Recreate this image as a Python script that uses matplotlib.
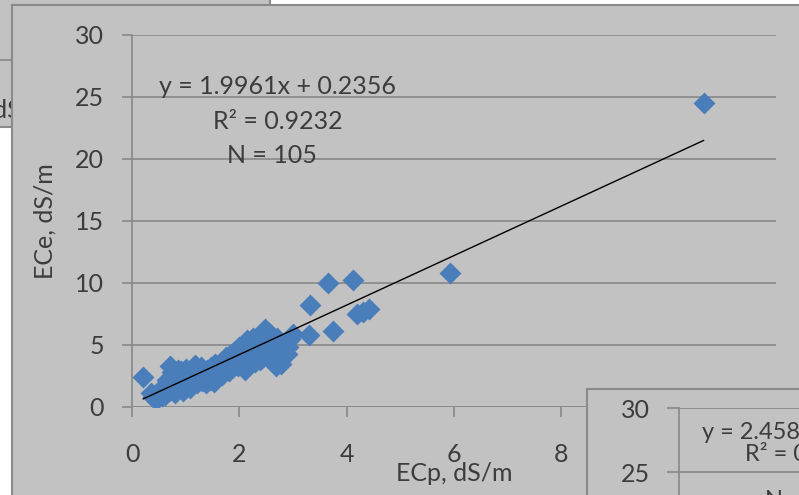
import matplotlib.pyplot as plt
from matplotlib.patches import Rectangle
from matplotlib.lines import Line2D

# ECp vs ECe readings
ecp = [0.21, 3.31, 3.66, 4.11, 3.74, 3.29, 4.20, 4.30, 4.41, 5.93, 10.65, 2.90,
       0.35, 0.40, 0.45, 0.50, 0.55, 0.60, 0.62, 0.65, 0.70, 0.72,
       0.75, 0.78, 0.80, 0.82, 0.85, 0.88, 0.90, 0.92, 0.95, 0.98,
       1.00, 1.02, 1.05, 1.08, 1.10, 1.12, 1.15, 1.18, 1.20, 1.22,
       1.25, 1.28, 1.30, 1.35, 1.38, 1.40, 1.42, 1.45, 1.48, 1.50,
       1.52, 1.55, 1.58, 1.60, 1.62, 1.65, 1.68, 1.70, 1.72, 1.75,
       1.78, 1.80, 1.82, 1.85, 1.88, 1.90, 1.92, 1.95, 1.98, 2.00,
       2.02, 2.05, 2.08, 2.10, 2.12, 2.15, 2.18, 2.20, 2.22, 2.25,
       2.28, 2.30, 2.32, 2.35, 2.38, 2.40, 2.42, 2.45, 2.48, 2.50,
       2.52, 2.55, 2.58, 2.60, 2.65, 2.68, 2.70, 2.72, 2.78, 2.82,
       2.88, 2.95, 3.00]
ece = [2.4, 8.2, 10.0, 10.25, 6.1, 5.8, 7.5, 7.7, 7.9, 10.8, 24.5, 4.8,
       1.1, 0.8, 0.6, 1.3, 0.9, 1.5, 1.0, 2.2, 3.3, 1.4,
       2.8, 1.8, 1.1, 2.5, 3.0, 1.6, 2.0, 2.9, 1.3, 2.4,
       3.1, 1.8, 2.6, 1.5, 2.2, 3.0, 2.0, 3.4, 2.7, 1.9,
       2.4, 3.2, 2.1, 2.8, 1.9, 3.0, 2.4, 2.2, 3.2, 2.6,
       2.0, 3.5, 2.9, 2.4, 3.3, 3.0, 2.6, 3.6, 3.1, 4.0,
       3.4, 2.9, 4.2, 3.7, 3.2, 4.4, 3.6, 4.0, 3.3, 4.8,
       3.9, 4.3, 5.1, 3.0, 4.6, 5.4, 3.8, 5.0, 4.2, 5.6,
       4.5, 3.6, 4.9, 5.2, 3.8, 4.4, 5.8, 4.0, 6.3, 5.5,
       4.7, 6.0, 3.9, 5.2, 4.5, 3.3, 5.6, 4.1, 3.5, 5.0,
       4.3, 5.5, 5.9]

slope = 1.9961
intercept = 0.2356
r2 = 0.9232

xticks = [0, 2, 4, 6, 8, 10, 12]
yticks = [0, 5, 10, 15, 20, 25, 30]

W, H = 799, 495
bg = '#c2c2c2'
grid = '#8c8c8c'
frame = '#8a8a8a'
txt = '#3c3c3c'
fs = 18

plt.rcParams['font.family'] = ['Lato', 'DejaVu Sans']


def px(x0, y0, x1, y1):
    # pixel box (top-left origin) -> figure fraction
    return [x0 / W, 1 - y1 / H, (x1 - x0) / W, (y1 - y0) / H]


def chart_area(box, z, edges):
    # gray fill plus only the border lines that show inside the canvas
    x0, y0, x1, y1 = box
    l, b, w, h = px(*box)
    fig.patches.append(Rectangle((l, b), w, h, transform=fig.transFigure,
                                 facecolor=bg, edgecolor='none', zorder=z))
    segs = {'left': ([x0, x0], [y0, y1]), 'right': ([x1, x1], [y0, y1]),
            'top': ([x0, x1], [y0, y0]), 'bottom': ([x0, x1], [y1, y1])}
    for e in edges:
        xs, ys = segs[e]
        fig.lines.append(Line2D([v / W for v in xs], [1 - v / H for v in ys],
                                transform=fig.transFigure, color=frame,
                                linewidth=1.5, zorder=z + 0.1))


def style_plot(a):
    a.set_facecolor('none')
    a.grid(axis='y', color=grid, linewidth=1.3)
    a.set_axisbelow(True)
    for s in ['top', 'right', 'bottom']:
        a.spines[s].set_visible(False)
    a.spines['left'].set_color(grid)
    a.spines['left'].set_linewidth(1.3)
    a.tick_params(colors=grid, labelcolor=txt, labelsize=fs, width=1.3, length=7)


fig = plt.figure(figsize=(W / 100, H / 100), dpi=100, facecolor='white')

# chart partly hidden behind, top left
chart_area((-5, -5, 270, 127), 0, ['right', 'bottom'])
back = fig.add_axes(px(-5, -5, 270, 127), zorder=0.5)
back.axis('off')
back.set_xlim(-5, 270)
back.set_ylim(127, -5)
back.plot([-5, 270], [60, 60], color=grid, linewidth=1.3)
back.text(-64, 111, 'ECp, dS/m', fontsize=fs, color=txt, ha='left', va='center')

# main chart
chart_area((12, 5, 830, 530), 1, ['left', 'top'])
ax = fig.add_axes(px(132, 35, 776, 407), zorder=2)
style_plot(ax)
ax.scatter(ecp, ece, marker='D', s=125, color='#4a7ebb', linewidths=0, zorder=3)
x0, x1 = min(ecp), max(ecp)
ax.plot([x0, x1], [slope * x0 + intercept, slope * x1 + intercept],
        color='black', linewidth=1.0, zorder=4)
ax.set_xlim(0, 12)
ax.set_ylim(0, 30)
ax.set_xticks(xticks)
ax.set_yticks(yticks)
ax.tick_params(axis='x', pad=19)
ax.tick_params(axis='y', pad=13)
ax.axhline(0, color=grid, linewidth=1.3, zorder=1)
ax.set_xlabel('ECp, dS/m', fontsize=fs, color=txt, labelpad=-3)
ax.set_ylabel('ECe, dS/m', fontsize=fs, color=txt, labelpad=13)
ax.text(2.72, 25.85, 'y = %.4fx + %.4f' % (slope, intercept), fontsize=fs,
        color=txt, ha='center', va='center')
ax.text(2.72, 23.0, 'R² = %.4f' % r2, fontsize=fs, color=txt,
        ha='center', va='center')
ax.text(2.60, 20.3, 'N = %d' % len(ecp), fontsize=fs, color=txt,
        ha='center', va='center')

# next chart, bottom right
chart_area((587, 389, 830, 530), 5, ['left', 'top'])
ax2 = fig.add_axes(px(679, 408, 1323, 792), zorder=6)
style_plot(ax2)
ax2.set_xlim(0, 12)
ax2.set_ylim(0, 30)
ax2.set_xticks([])
ax2.set_yticks(yticks)
ax2.tick_params(axis='y', pad=12, length=9)
ax2.text(0.43, 28.1, 'y = 2.4582x', fontsize=17, color=txt, ha='left', va='center')
ax2.text(1.23, 26.4, 'R² = 0.9', fontsize=17, color=txt, ha='left', va='center')
ax2.text(1.6, 22.8, 'N = 105', fontsize=17, color=txt, ha='left', va='center')

fig.savefig('out.png', dpi=100, facecolor='white')
